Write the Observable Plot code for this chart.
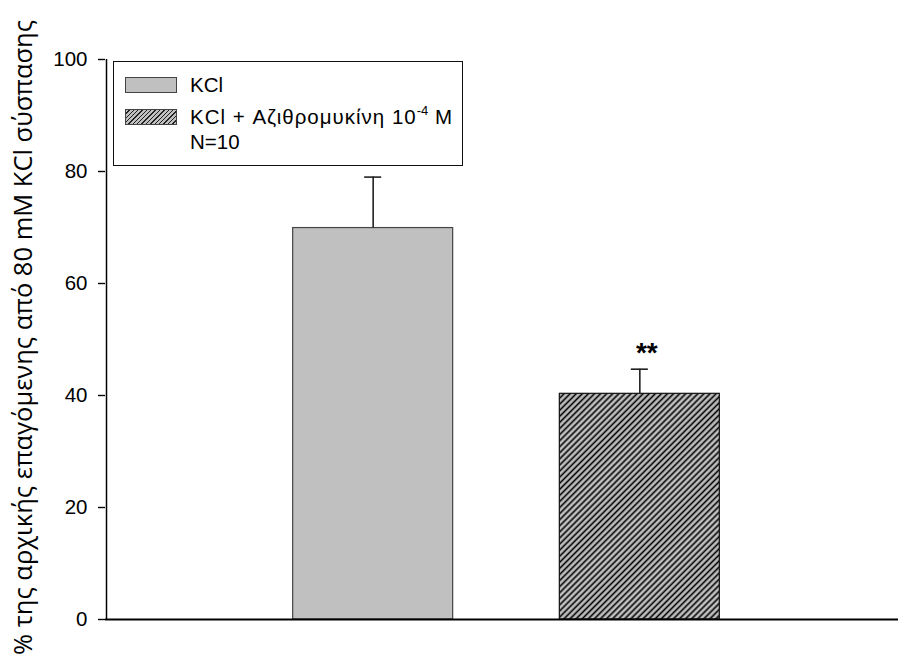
<!DOCTYPE html>
<html>
<head>
<meta charset="utf-8">
<script src="https://cdn.jsdelivr.net/npm/d3@7"></script>
<script src="https://cdn.jsdelivr.net/npm/@observablehq/plot@0.6"></script>
<style>
  html, body { margin: 0; padding: 0; background: #fff; }
  #wrap { position: relative; width: 898px; height: 658px; overflow: hidden; font-family: "Liberation Sans", Arial, sans-serif; }
  #legend { position: absolute; left: 113px; top: 61px; width: 348px; height: 103px; border: 1.5px solid #111; background: #fff; box-sizing: content-box; }
  .sw { position: absolute; left: 11px; width: 52px; height: 16px; border: 1px solid #444; box-sizing: border-box; }
  .lt { position: absolute; left: 76px; font-size: 20.5px; line-height: 20px; color: #000; white-space: nowrap; }
  .lt.wide { letter-spacing: 1px; }
  .lt sup { font-size: 13px; position: relative; top: -1px; line-height: 0; vertical-align: super; letter-spacing: 0; }
</style>
</head>
<body>
<div id="wrap"></div>
<script>
// ---- data ----
const groups = ["KCl", "KCl + Αζιθρομυκίνη 10⁻⁴ M"];
const positions = [1, 2];
const means = [69.9, 40.3];
const errors = [9.1, 4.4];
const signif = ["", "**"];
const yTicks = [0, 20, 40, 60, 80, 100];
const yTitle = "% της αρχικής επαγόμενης από 80 mM KCl σύσπασης";
const nLabel = "N=10";

const data = groups.map((g, i) => ({group: g, pos: positions[i], mean: means[i], err: errors[i], sig: signif[i]}));
const halfBar = 0.3;
const halfCap = 0.032;

const svg = Plot.plot({
  width: 898,
  height: 658,
  marginLeft: 105,
  marginRight: 0,
  marginTop: 59,
  marginBottom: 39,
  style: {fontFamily: "'Liberation Sans', Arial, sans-serif", background: "#fff", overflow: "visible"},
  x: {domain: [0, 3], range: [106, 906], axis: null},
  y: {domain: [0, 100], axis: null},
  marks: [
    Plot.rectY(data.slice(0, 1), {x1: d => d.pos - halfBar, x2: d => d.pos + halfBar, y1: 0, y2: "mean", fill: "#c0c0c0", stroke: "#444", strokeWidth: 1.2}),
    Plot.rectY(data.slice(1), {x1: d => d.pos - halfBar, x2: d => d.pos + halfBar, y1: 0, y2: "mean", fill: "url(#hatch)", stroke: "#111", strokeWidth: 1.2}),
    Plot.ruleX(data, {x: "pos", y1: "mean", y2: d => d.mean + d.err, stroke: "#222", strokeWidth: 1.6}),
    Plot.ruleY(data, {x1: d => d.pos - halfCap, x2: d => d.pos + halfCap, y: d => d.mean + d.err, stroke: "#222", strokeWidth: 1.6}),
    Plot.text(data, {x: "pos", y: d => d.mean + d.err, text: "sig", dy: -16, dx: 7, fontSize: 28, fontWeight: "bold", fill: "#000"}),
    Plot.axisY({ticks: yTicks, tickSize: 7, tickPadding: 11, fontSize: 20.5, tickFormat: d => String(d), stroke: "#000", strokeWidth: 1.4, color: "#000", label: null}),
    Plot.ruleX([0], {y1: 0, y2: 100, stroke: "#000", strokeWidth: 1.5}),
    Plot.ruleY([0], {stroke: "#000", strokeWidth: 2}),
    Plot.text([yTitle], {frameAnchor: "left", rotate: -90, dx: -82, dy: -2, fontSize: 25.5, fontFamily: "'Open Sans', sans-serif", fill: "#000", textAnchor: "middle"})
  ]
});

d3.select(svg).insert("defs", ":first-child").html(
  '<pattern id="hatch" patternUnits="userSpaceOnUse" width="4.3" height="4.3" patternTransform="rotate(45)">' +
  '<rect width="4.3" height="4.3" fill="#c0c0c0"></rect>' +
  '<line x1="2.15" y1="0" x2="2.15" y2="4.3" stroke="#000" stroke-width="1.6"></line></pattern>'
);

const wrap = document.getElementById("wrap");
wrap.appendChild(svg);
svg.style.position = "absolute";
svg.style.left = "0px";
svg.style.top = "0px";

// legend (HTML overlay)
const legend = document.createElement("div");
legend.id = "legend";
const fills = ["#c0c0c0", "repeating-linear-gradient(-45deg, #c0c0c0 0px, #c0c0c0 2.1px, #222 2.1px, #222 3.1px)"];
const swTops = [15, 47];
groups.forEach((g, i) => {
  const sw = document.createElement("div");
  sw.className = "sw";
  sw.style.top = swTops[i] + "px";
  sw.style.background = fills[i];
  legend.appendChild(sw);
  const t = document.createElement("div");
  t.className = "lt" + (i === 1 ? " wide" : "");
  t.style.top = (swTops[i] - 2) + "px";
  if (i === 1) {
    t.innerHTML = "KCl + Αζιθρομυκίνη 10<sup>-4</sup> M";
  } else {
    t.textContent = g;
  }
  legend.appendChild(t);
});
const n = document.createElement("div");
n.className = "lt";
n.style.top = "70px";
n.textContent = nLabel;
legend.appendChild(n);
wrap.appendChild(legend);
</script>
</body>
</html>
